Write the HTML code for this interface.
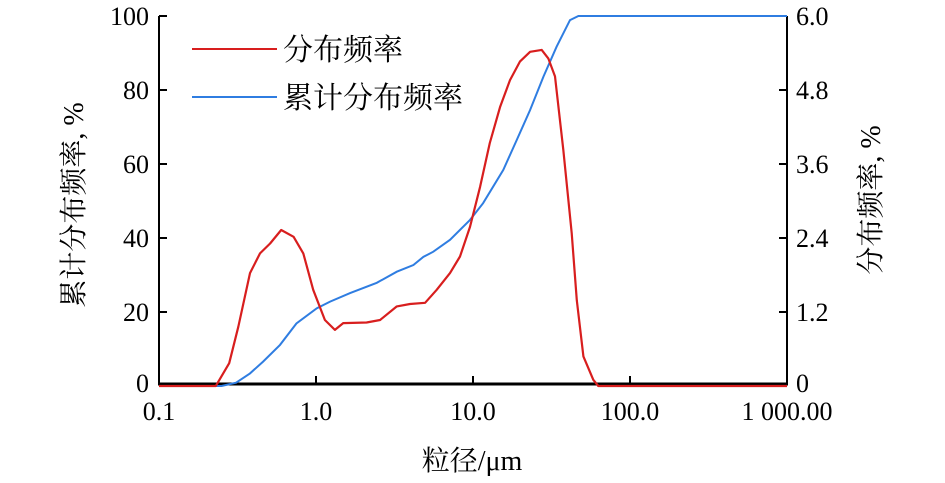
<!DOCTYPE html>
<html><head><meta charset="utf-8"><style>
body{margin:0;background:#fff;width:945px;height:478px;overflow:hidden}
svg text{font-family:"Liberation Serif","Noto Serif CJK SC","Noto Sans CJK SC",serif;fill:#000}
</style></head><body>
<svg id="chart" width="945" height="478" viewBox="0 0 945 478" xmlns="http://www.w3.org/2000/svg">
<g id="axes"></g><g id="series"></g>
<g>
<line x1="192" y1="49" x2="277" y2="49" stroke="#d81e1e" stroke-width="2"/>
<text x="283" y="60" font-size="30">分布频率</text>
<line x1="192" y1="97" x2="277" y2="97" stroke="#2f7de1" stroke-width="2"/>
<text x="283" y="108" font-size="30">累计分布频率</text>
</g>
<text x="472" y="470" font-size="28" text-anchor="middle">粒径/μm</text>
<text transform="translate(83,205) rotate(-90)" font-size="28" text-anchor="middle">累计分布频率, %</text>
<text transform="translate(880,200) rotate(-90)" font-size="28" text-anchor="middle">分布频率, %</text>
</svg>
<script>
const freqX=[0.1,0.23,0.28,0.32,0.38,0.44,0.51,0.60,0.72,0.83,0.96,1.14,1.32,1.49,2.10,2.56,3.27,3.97,4.95,5.87,7.14,8.27,9.57,11.1,12.8,14.9,17.2,19.9,23.1,27.4,30.2,33.3,37.6,42.5,45.8,50.5,58.4,62.8,1000];
const freqY=[0,0,0.37,0.96,1.83,2.15,2.31,2.53,2.42,2.15,1.56,1.07,0.91,1.02,1.03,1.07,1.29,1.33,1.35,1.56,1.83,2.10,2.58,3.23,3.94,4.53,4.96,5.26,5.42,5.45,5.31,5.02,3.83,2.48,1.39,0.48,0.10,0,0];
const cumX=[0.1,0.25,0.31,0.38,0.46,0.59,0.75,1.01,1.23,1.65,2.44,3.27,4.17,4.83,5.59,7.14,9.57,11.6,15.6,19.0,23.1,28.1,34.1,41.5,46.9,1000];
const cumY=[0,0,0.9,3.4,6.6,11.1,16.9,21.0,22.8,25.1,27.9,30.9,32.7,34.9,36.3,39.5,44.9,49.4,58.4,66.5,74.6,83.6,91.7,98.9,100,100];
const leftTicks=[0,20,40,60,80,100];
const rightTicks=["0","1.2","2.4","3.6","4.8","6.0"];
const xTicks=[0.1,1,10,100,1000];
const xTickLabels=["0.1","1.0","10.0","100.0","1 000.00"];
const X0=159,X1=787,Y0=386,Y1=16,RMAX=6;
const NS="http://www.w3.org/2000/svg";
function xs(v){return X0+(Math.log10(v)+1)/4*(X1-X0);}
function yl(v){return Y0+(Y1-Y0)*v/100;}
function yr(v){return Y0+(Y1-Y0)*v/RMAX;}
function mk(t,a,p){const e=document.createElementNS(NS,t);for(const k in a)e.setAttribute(k,a[k]);p.appendChild(e);return e;}
const ax=document.getElementById('axes'),se=document.getElementById('series');
let e;
e=mk('line',{x1:X0,y1:Y1,x2:X0,y2:385,stroke:'#000','stroke-width':2},ax);

e=mk('line',{x1:X1,y1:Y1,x2:X1,y2:385,stroke:'#000','stroke-width':2},ax);

e=mk('line',{x1:X0-1,y1:384,x2:X1+1,y2:384,stroke:'#000','stroke-width':3},ax);

leftTicks.forEach((v,i)=>{const y=yl(v);
 e=mk('line',{x1:X0,y1:y,x2:X0+8,y2:y,stroke:'#000','stroke-width':2},ax);
 
 e=mk('text',{x:149,y:Math.min(y+9,392),'font-size':26,'text-anchor':'end'},ax);e.textContent=v;
 
 e=mk('line',{x1:X1-8,y1:y,x2:X1,y2:y,stroke:'#000','stroke-width':2},ax);
 
 e=mk('text',{x:796,y:Math.min(y+9,392),'font-size':26},ax);e.textContent=rightTicks[i];
 
});
xTicks.forEach((v,i)=>{const x=xs(v);
 e=mk('line',{x1:x,y1:384,x2:x,y2:376,stroke:'#000','stroke-width':2},ax);
 
 e=mk('text',{x:x,y:420,'font-size':26,'text-anchor':'middle'},ax);e.textContent=xTickLabels[i];
 
});
e=mk('polyline',{points:cumX.map((v,i)=>xs(v).toFixed(1)+','+yl(cumY[i]).toFixed(1)).join(' '),fill:'none',stroke:'#2f7de1','stroke-width':2},se);

e=mk('polyline',{points:freqX.map((v,i)=>xs(v).toFixed(1)+','+yr(freqY[i]).toFixed(1)).join(' '),fill:'none',stroke:'#d81e1e','stroke-width':2.2,'stroke-linejoin':'round'},se);

</script>
</body></html>
